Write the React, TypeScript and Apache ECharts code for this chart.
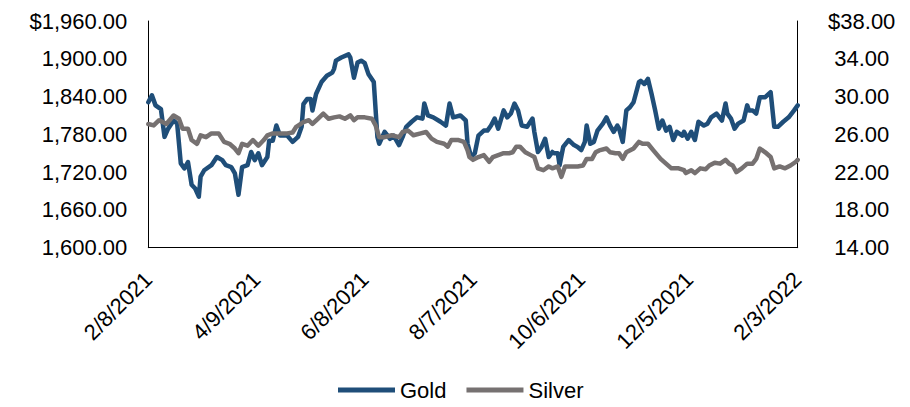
import { useEffect, useRef } from "react";
import * as echarts from "echarts";

// Calendar span of the x axis
const startDate = "2021-02-08";
const endDate = "2022-02-03";

// Gold, USD per ounce
const goldDates = [
  "2021-02-08", "2021-02-10", "2021-02-12", "2021-02-15", "2021-02-17", "2021-02-19", "2021-02-22", "2021-02-24",
  "2021-02-26", "2021-02-28", "2021-03-02", "2021-03-04", "2021-03-06", "2021-03-08", "2021-03-09", "2021-03-11",
  "2021-03-15", "2021-03-18", "2021-03-21", "2021-03-23", "2021-03-26", "2021-03-28", "2021-03-30", "2021-04-01",
  "2021-04-04", "2021-04-06", "2021-04-08", "2021-04-10", "2021-04-12", "2021-04-15", "2021-04-16", "2021-04-18",
  "2021-04-20", "2021-04-22", "2021-04-26", "2021-04-29", "2021-05-02", "2021-05-04", "2021-05-05", "2021-05-07",
  "2021-05-09", "2021-05-10", "2021-05-12", "2021-05-15", "2021-05-18", "2021-05-21", "2021-05-22", "2021-05-23",
  "2021-05-26", "2021-05-30", "2021-05-31", "2021-06-02", "2021-06-04", "2021-06-06", "2021-06-08", "2021-06-10",
  "2021-06-13", "2021-06-15", "2021-06-16", "2021-06-19", "2021-06-22", "2021-06-24", "2021-06-27", "2021-06-29",
  "2021-07-01", "2021-07-04", "2021-07-07", "2021-07-10", "2021-07-11", "2021-07-13", "2021-07-16", "2021-07-20",
  "2021-07-23", "2021-07-25", "2021-07-27", "2021-07-31", "2021-08-03", "2021-08-04", "2021-08-06", "2021-08-08",
  "2021-08-10", "2021-08-13", "2021-08-15", "2021-08-17", "2021-08-19", "2021-08-21", "2021-08-24", "2021-08-26",
  "2021-08-28", "2021-08-30", "2021-09-01", "2021-09-03", "2021-09-06", "2021-09-09", "2021-09-10", "2021-09-12",
  "2021-09-14", "2021-09-16", "2021-09-18", "2021-09-20", "2021-09-21", "2021-09-23", "2021-09-24", "2021-09-26",
  "2021-09-29", "2021-10-02", "2021-10-04", "2021-10-06", "2021-10-08", "2021-10-09", "2021-10-11", "2021-10-13",
  "2021-10-15", "2021-10-18", "2021-10-20", "2021-10-22", "2021-10-24", "2021-10-26", "2021-10-27", "2021-10-29",
  "2021-10-31", "2021-11-02", "2021-11-04", "2021-11-07", "2021-11-08", "2021-11-10", "2021-11-12", "2021-11-14",
  "2021-11-16", "2021-11-18", "2021-11-20", "2021-11-22", "2021-11-24", "2021-11-26", "2021-11-28", "2021-12-01",
  "2021-12-02", "2021-12-04", "2021-12-06", "2021-12-08", "2021-12-10", "2021-12-13", "2021-12-15", "2021-12-17",
  "2021-12-20", "2021-12-23", "2021-12-25", "2021-12-26", "2021-12-28", "2021-12-30", "2022-01-01", "2022-01-04",
  "2022-01-06", "2022-01-07", "2022-01-09", "2022-01-11", "2022-01-13", "2022-01-16", "2022-01-19", "2022-01-21",
  "2022-01-23", "2022-01-26", "2022-01-29", "2022-02-01", "2022-02-03",
];
const goldPrices = [
  1831, 1842, 1826, 1820, 1776, 1789, 1802, 1797,
  1734, 1726, 1736, 1700, 1694, 1681, 1713, 1723,
  1731, 1744, 1739, 1731, 1728, 1718, 1684, 1728,
  1731, 1752, 1739, 1750, 1731, 1744, 1770, 1770,
  1794, 1778, 1778, 1768, 1776, 1792, 1828, 1836,
  1836, 1818, 1844, 1863, 1873, 1878, 1884, 1897,
  1902, 1907, 1902, 1870, 1894, 1897, 1893, 1876,
  1863, 1776, 1765, 1784, 1773, 1778, 1763, 1776,
  1792, 1800, 1807, 1805, 1829, 1810, 1807, 1800,
  1794, 1829, 1807, 1810, 1802, 1765, 1744, 1750,
  1778, 1786, 1786, 1794, 1805, 1789, 1818, 1807,
  1813, 1829, 1818, 1794, 1792, 1805, 1784, 1752,
  1760, 1773, 1744, 1752, 1750, 1750, 1731, 1760,
  1771, 1763, 1760, 1755, 1768, 1794, 1765, 1768,
  1786, 1797, 1807, 1794, 1784, 1794, 1789, 1768,
  1818, 1823, 1831, 1863, 1865, 1860, 1868, 1844,
  1818, 1789, 1802, 1786, 1792, 1771, 1784, 1778,
  1784, 1773, 1784, 1771, 1800, 1794, 1797, 1807,
  1813, 1802, 1829, 1813, 1805, 1789, 1797, 1802,
  1826, 1818, 1818, 1813, 1839, 1839, 1847, 1792,
  1792, 1800, 1807, 1818, 1826,
];

// Silver, USD per ounce
const silverDates = [
  "2021-02-08", "2021-02-11", "2021-02-14", "2021-02-18", "2021-02-22", "2021-02-25", "2021-02-27", "2021-03-02",
  "2021-03-04", "2021-03-07", "2021-03-09", "2021-03-12", "2021-03-15", "2021-03-19", "2021-03-22", "2021-03-25",
  "2021-03-28", "2021-03-30", "2021-04-01", "2021-04-04", "2021-04-07", "2021-04-10", "2021-04-13", "2021-04-15",
  "2021-04-18", "2021-04-22", "2021-04-26", "2021-04-29", "2021-05-01", "2021-05-05", "2021-05-08", "2021-05-10",
  "2021-05-13", "2021-05-16", "2021-05-19", "2021-05-22", "2021-05-25", "2021-05-28", "2021-05-31", "2021-06-02",
  "2021-06-04", "2021-06-08", "2021-06-12", "2021-06-14", "2021-06-16", "2021-06-19", "2021-06-23", "2021-06-27",
  "2021-06-29", "2021-07-02", "2021-07-05", "2021-07-09", "2021-07-12", "2021-07-15", "2021-07-18", "2021-07-22",
  "2021-07-24", "2021-07-26", "2021-07-30", "2021-08-02", "2021-08-04", "2021-08-05", "2021-08-07", "2021-08-10",
  "2021-08-13", "2021-08-16", "2021-08-18", "2021-08-21", "2021-08-24", "2021-08-27", "2021-08-29", "2021-08-31",
  "2021-09-02", "2021-09-05", "2021-09-08", "2021-09-10", "2021-09-12", "2021-09-15", "2021-09-18", "2021-09-20",
  "2021-09-23", "2021-09-25", "2021-09-27", "2021-09-30", "2021-10-04", "2021-10-07", "2021-10-09", "2021-10-12",
  "2021-10-14", "2021-10-16", "2021-10-20", "2021-10-22", "2021-10-25", "2021-10-27", "2021-10-29", "2021-10-31",
  "2021-11-04", "2021-11-07", "2021-11-09", "2021-11-12", "2021-11-15", "2021-11-19", "2021-11-22", "2021-11-25",
  "2021-11-29", "2021-12-02", "2021-12-03", "2021-12-06", "2021-12-08", "2021-12-11", "2021-12-14", "2021-12-16",
  "2021-12-19", "2021-12-22", "2021-12-25", "2021-12-27", "2021-12-29", "2021-12-31", "2022-01-03", "2022-01-06",
  "2022-01-09", "2022-01-11", "2022-01-13", "2022-01-16", "2022-01-19", "2022-01-21", "2022-01-24", "2022-01-27",
  "2022-01-30", "2022-02-02", "2022-02-03",
];
const silverPrices = [
  27.1, 26.95, 27.5, 27.1, 28.0, 27.65, 26.6, 26.6,
  25.4, 25.0, 25.9, 25.7, 26.1, 26.1, 25.2, 25.0,
  24.5, 24.0, 25.0, 24.8, 25.4, 24.8, 25.4, 25.9,
  26.1, 26.1, 26.1, 26.2, 26.8, 27.3, 27.5, 27.1,
  27.65, 28.2, 27.65, 27.8, 27.9, 27.65, 28.0, 27.5,
  27.8, 27.8, 27.65, 26.95, 25.7, 25.7, 25.9, 25.7,
  26.25, 26.4, 25.9, 26.1, 26.25, 25.55, 25.2, 25.0,
  24.7, 25.4, 25.4, 25.2, 24.3, 23.6, 23.3, 23.6,
  23.8, 23.1, 23.6, 23.8, 24.0, 24.0, 24.1, 24.7,
  24.7, 24.1, 23.8, 23.6, 22.4, 22.2, 22.6, 22.4,
  22.6, 21.5, 22.6, 22.6, 22.6, 22.7, 23.4, 23.4,
  24.1, 24.3, 24.5, 24.1, 24.0, 24.0, 23.4, 24.1,
  24.5, 25.2, 25.0, 25.0, 24.3, 23.4, 22.9, 22.4,
  22.4, 22.2, 21.9, 22.2, 21.9, 22.4, 22.3, 22.7,
  23.0, 22.9, 23.3, 22.9, 22.7, 22.0, 22.4, 22.9,
  22.9, 23.4, 24.5, 24.1, 23.6, 22.4, 22.6, 22.4,
  22.7, 23.1, 23.3,
];

// Axis tick values
const goldTicks = [1600, 1660, 1720, 1780, 1840, 1900, 1960];
const silverTicks = [14, 18, 22, 26, 30, 34, 38];

const GOLD_COLOR = "#1f4e79";
const SILVER_COLOR = "#767171";
const FONT = "'Liberation Sans', Arial, sans-serif";

function dayList(from: string, to: string): string[] {
  const out: string[] = [];
  const t0 = Date.parse(from + "T00:00:00Z");
  const t1 = Date.parse(to + "T00:00:00Z");
  for (let t = t0; t <= t1; t += 86400000) {
    out.push(new Date(t).toISOString().slice(0, 10));
  }
  return out;
}

function usDate(iso: string): string {
  const [y, m, d] = iso.split("-");
  return `${Number(m)}/${Number(d)}/${y}`;
}

function money(v: number, top: number): string {
  const s = v.toLocaleString("en-US", { minimumFractionDigits: 2, maximumFractionDigits: 2 });
  return v === top ? "$" + s : s;
}

export default function App() {
  const ref = useRef<HTMLDivElement>(null);

  useEffect(() => {
    if (!ref.current) return;
    const chart = echarts.init(ref.current, undefined, { renderer: "svg" });
    const days = dayList(startDate, endDate);
    const goldTop = goldTicks[goldTicks.length - 1];
    const silverTop = silverTicks[silverTicks.length - 1];

    chart.setOption({
      animation: false,
      backgroundColor: "#ffffff",
      textStyle: { fontFamily: FONT },
      grid: { left: 148.3, right: 112.3, top: 21, bottom: 159.3 },
      legend: {
        data: ["Gold", "Silver"],
        left: 336,
        top: 376,
        padding: 2,
        icon: "rect",
        itemWidth: 57,
        itemHeight: 5,
        itemGap: 20,
        textStyle: { fontFamily: FONT, fontSize: 22, lineHeight: 24, color: "#000" },
      },
      xAxis: {
        type: "category",
        data: days,
        boundaryGap: false,
        axisLine: { lineStyle: { color: "#000", width: 1 } },
        axisTick: { show: false },
        splitLine: { show: false },
        axisLabel: {
          interval: 59,
          rotate: 45,
          margin: 28,
          fontFamily: FONT,
          fontSize: 22,
          color: "#000",
          formatter: (v: string) => usDate(v),
        },
      },
      yAxis: [
        {
          type: "value",
          position: "left",
          min: goldTicks[0],
          max: goldTop,
          axisLine: { show: true, lineStyle: { color: "#000", width: 1 } },
          axisTick: { show: false },
          splitLine: { show: false },
          axisLabel: {
            customValues: goldTicks,
            margin: 21,
            fontFamily: FONT,
            fontSize: 22,
            color: "#000",
            formatter: (v: number) => money(v, goldTop),
          },
        },
        {
          type: "value",
          position: "right",
          min: silverTicks[0],
          max: silverTop,
          axisLine: { show: true, lineStyle: { color: "#000", width: 1 } },
          axisTick: { show: false },
          splitLine: { show: false },
          axisLabel: {
            customValues: silverTicks,
            margin: 64,
            align: "center",
            fontFamily: FONT,
            fontSize: 22,
            color: "#000",
            formatter: (v: number) => money(v, silverTop),
          },
        },
      ],
      series: [
        {
          name: "Gold",
          type: "line",
          yAxisIndex: 0,
          showSymbol: false,
          symbol: "none",
          data: goldDates.map((d, i) => [d, goldPrices[i]]),
          itemStyle: { color: GOLD_COLOR },
          lineStyle: { color: GOLD_COLOR, width: 4.5, join: "round", cap: "round" },
        },
        {
          name: "Silver",
          type: "line",
          yAxisIndex: 1,
          showSymbol: false,
          symbol: "none",
          data: silverDates.map((d, i) => [d, silverPrices[i]]),
          itemStyle: { color: SILVER_COLOR },
          lineStyle: { color: SILVER_COLOR, width: 4.5, join: "round", cap: "round" },
        },
      ],
    });

    return () => chart.dispose();
  }, []);

  return (
    <div
      ref={ref}
      style={{ position: "fixed", left: 0, top: 0, width: 910, height: 407, background: "#fff" }}
    />
  );
}
